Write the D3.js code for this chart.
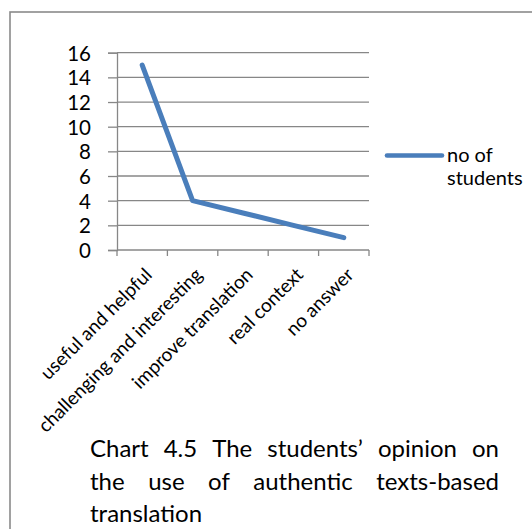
<!DOCTYPE html>
<html>
<head>
<meta charset="utf-8">
<script src="https://cdn.jsdelivr.net/npm/d3@7"></script>
<style>
  html, body { margin: 0; padding: 0; background: #ffffff; }
  svg { display: block; }
  text { font-family: Lato, "Open Sans", sans-serif; fill: #000; }
</style>
</head>
<body>
<svg id="chart" width="532" height="529"></svg>
<script>
// Survey responses
const categories = [
  "useful and helpful",
  "challenging and interesting",
  "improve translation",
  "real context",
  "no answer"
];
const students = [15, 4, 3, 2, 1];
const yTicks = [0, 2, 4, 6, 8, 10, 12, 14, 16];
const seriesName = ["no of", "students"];
const captionLines = [
  "Chart 4.5 The students\u2019 opinion on",
  "the use of authentic texts-based",
  "translation"
];

const svg = d3.select("#chart");
const lineColor = "#4a7ebb";
const gridColor = "#878787";

// frame around the figure
svg.append("rect")
  .attr("x", 10).attr("y", 12)
  .attr("width", 540).attr("height", 540)
  .attr("fill", "none")
  .attr("stroke", "#8a8a8a")
  .attr("stroke-width", 1.6);

const plot = { left: 117, right: 369, top: 52.7, bottom: 250 };

const x = d3.scaleBand().domain(categories).range([plot.left, plot.right]);
const y = d3.scaleLinear().domain([0, 16]).range([plot.bottom, plot.top]);

// horizontal gridlines
svg.append("g")
  .selectAll("line")
  .data(yTicks.filter(v => v > 0))
  .join("line")
  .attr("x1", plot.left).attr("x2", plot.right)
  .attr("y1", d => y(d)).attr("y2", d => y(d))
  .attr("stroke", gridColor).attr("stroke-width", 1.3);

// y axis
const yAxis = svg.append("g")
  .attr("transform", `translate(${plot.left},0)`)
  .call(d3.axisLeft(y).tickValues(yTicks).tickSize(9).tickPadding(17));
yAxis.select(".domain").attr("stroke", gridColor).attr("stroke-width", 1.3);
yAxis.selectAll(".tick line").attr("stroke", gridColor).attr("stroke-width", 1.3);
yAxis.selectAll(".tick text")
  .style("font-family", "Lato, sans-serif")
  .style("font-size", "20.5px")
  .attr("fill", "#000")
  .attr("dy", "0.36em");

// x axis: baseline with ticks on category boundaries
const xAxis = svg.append("g");
xAxis.append("line")
  .attr("x1", plot.left).attr("x2", plot.right)
  .attr("y1", plot.bottom).attr("y2", plot.bottom)
  .attr("stroke", gridColor).attr("stroke-width", 1.3);
const boundaries = categories.map(c => x(c)).concat([x(categories[categories.length - 1]) + x.bandwidth()]);
xAxis.selectAll("line.tick")
  .data(boundaries)
  .join("line")
  .attr("class", "tick")
  .attr("x1", d => d).attr("x2", d => d)
  .attr("y1", plot.bottom).attr("y2", plot.bottom + 6)
  .attr("stroke", gridColor).attr("stroke-width", 1.3);

// rotated category labels
xAxis.selectAll("text")
  .data(categories)
  .join("text")
  .attr("transform", d => `translate(${x(d) + x.bandwidth() / 2 + 11},${plot.bottom + 26}) rotate(-45)`)
  .attr("text-anchor", "end")
  .style("font-size", "19px")
  .text(d => d);

// data line
const line = d3.line()
  .x((d, i) => x(categories[i]) + x.bandwidth() / 2)
  .y(d => y(d));
svg.append("path")
  .datum(students)
  .attr("d", line)
  .attr("fill", "none")
  .attr("stroke", lineColor)
  .attr("stroke-width", 5)
  .attr("stroke-linejoin", "round")
  .attr("stroke-linecap", "round");

// legend
const legend = svg.append("g");
legend.append("line")
  .attr("x1", 387).attr("x2", 442)
  .attr("y1", 155.5).attr("y2", 155.5)
  .attr("stroke", lineColor)
  .attr("stroke-width", 4.6)
  .attr("stroke-linecap", "round");
legend.selectAll("text")
  .data(seriesName)
  .join("text")
  .attr("x", 447)
  .attr("y", (d, i) => 162 + i * 23)
  .style("font-size", "20px")
  .text(d => d);

// caption, justified between left and right edges except the last line
const capLeft = 90, capRight = 499, capSize = 24;
const capBase = [457, 490, 522];
captionLines.forEach((ln, li) => {
  const g = svg.append("g");
  const words = ln.split(" ");
  if (li === captionLines.length - 1) {
    g.append("text").attr("x", capLeft).attr("y", capBase[li])
      .style("font-size", capSize + "px").text(ln);
    return;
  }
  const nodes = words.map(w => g.append("text")
    .attr("y", capBase[li])
    .style("font-size", capSize + "px")
    .text(w));
  const widths = nodes.map(n => n.node().getComputedTextLength());
  const total = d3.sum(widths);
  const gap = (capRight - capLeft - total) / (words.length - 1);
  let cx = capLeft;
  nodes.forEach((n, i) => { n.attr("x", cx); cx += widths[i] + gap; });
});
</script>
</body>
</html>
